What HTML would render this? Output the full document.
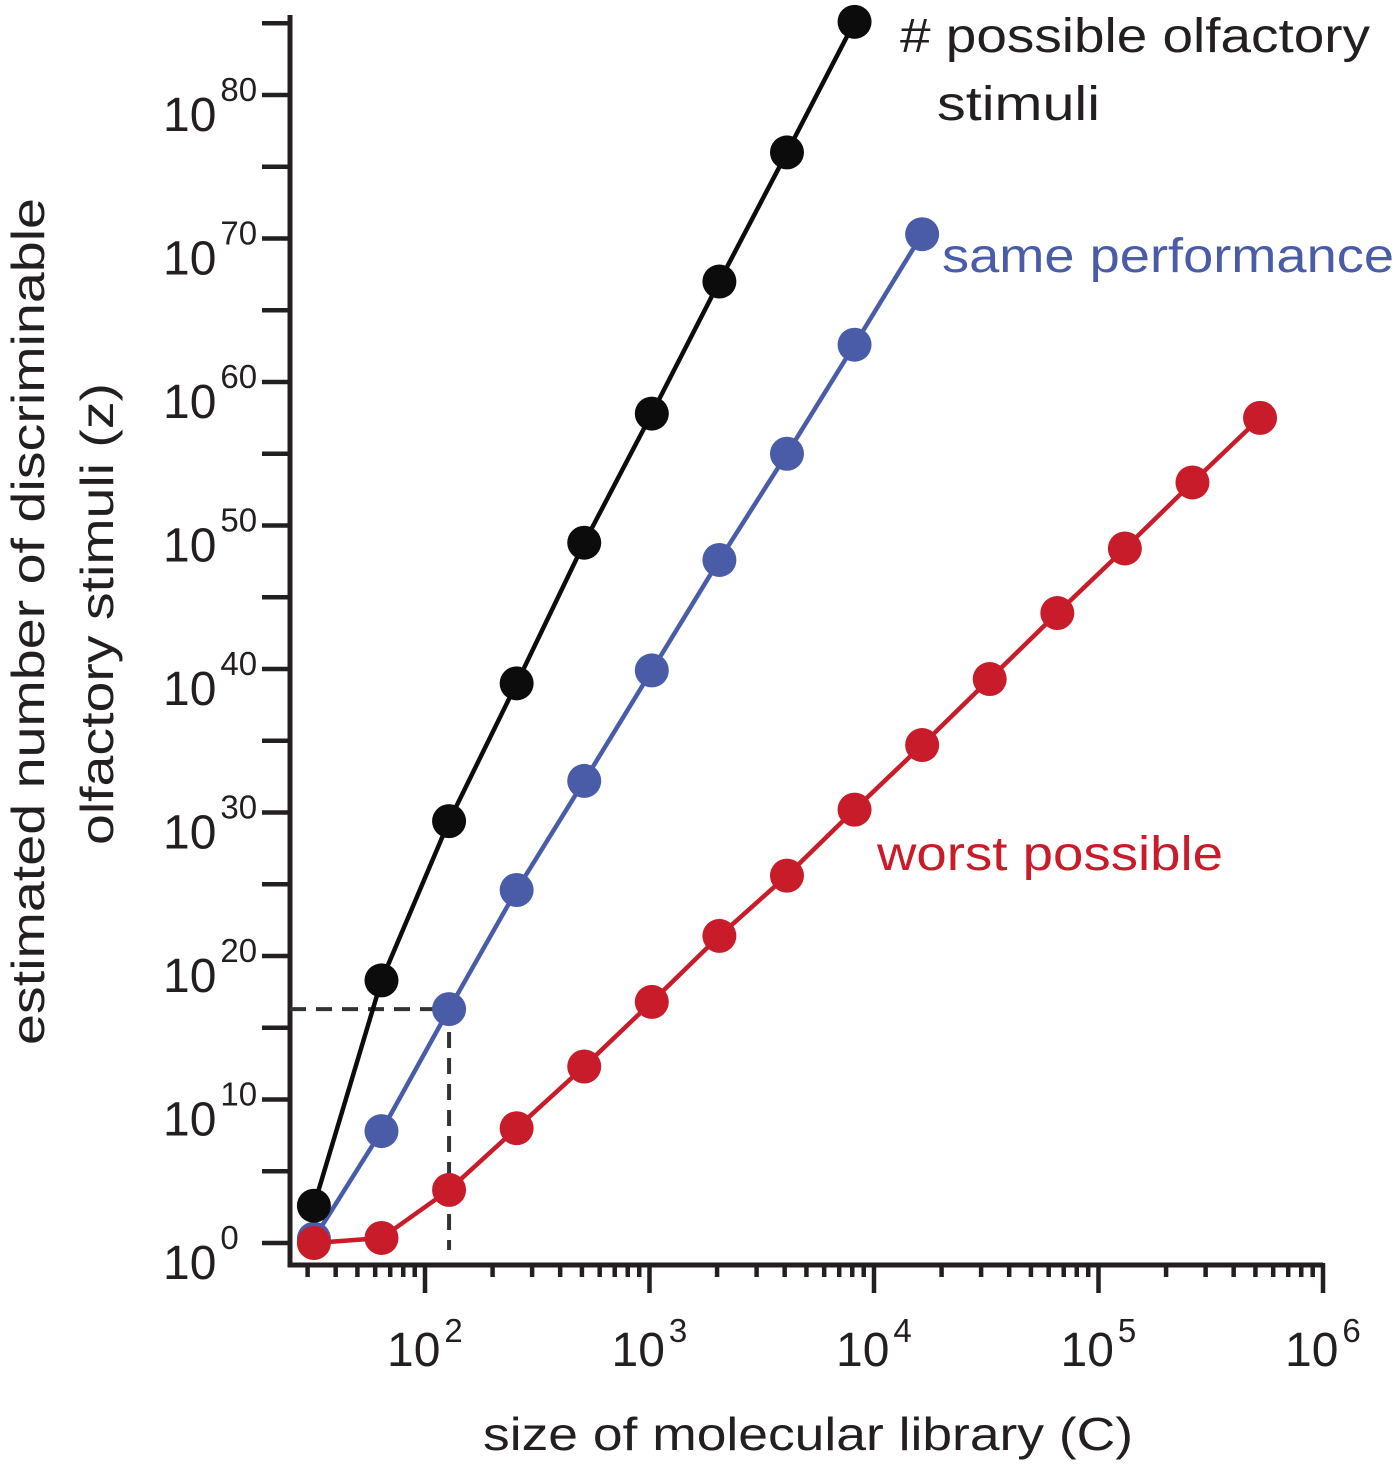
<!DOCTYPE html>
<html><head><meta charset="utf-8"><style>
body{margin:0;background:#fff}
svg text{font-family:"Liberation Sans",sans-serif}
</style></head><body>
<svg id="chart" width="1395" height="1464" viewBox="0 0 1395 1464" xmlns="http://www.w3.org/2000/svg">
<g id="axes"></g>
<g id="marks"></g>
<text x="483" y="1450" font-size="46" textLength="650" lengthAdjust="spacingAndGlyphs" fill="#231f20">size of molecular library (C)</text>
<text transform="translate(44,1045) rotate(-90)" font-size="46" textLength="847" lengthAdjust="spacingAndGlyphs" fill="#231f20">estimated number of discriminable</text>
<text transform="translate(113,845) rotate(-90)" font-size="46" textLength="462" lengthAdjust="spacingAndGlyphs" fill="#231f20">olfactory stimuli (z)</text>
<text x="900" y="52" font-size="48" textLength="470" lengthAdjust="spacingAndGlyphs" fill="#231f20"># possible olfactory</text>
<text x="937" y="120" font-size="48" textLength="163" lengthAdjust="spacingAndGlyphs" fill="#231f20">stimuli</text>
<text x="942" y="272" font-size="48" textLength="452" lengthAdjust="spacingAndGlyphs" fill="#4a5ca8">same performance</text>
<text x="877" y="870" font-size="48" textLength="346" lengthAdjust="spacingAndGlyphs" fill="#c91c2a">worst possible</text>
</svg>
<script>
const blackC=[32,64,128,256,512,1024,2048,4096,8192];
const blackExp=[2.6,18.3,29.4,39,48.8,57.8,67,76,85.1];
const blueC=[32,64,128,256,512,1024,2048,4096,8192,16384];
const blueExp=[0.3,7.8,16.3,24.6,32.2,39.9,47.6,55,62.6,70.3];
const redC=[32,64,128,256,512,1024,2048,4096,8192,16384,32768,65536,131072,262144,524288];
const redExp=[0,0.35,3.7,8,12.3,16.8,21.4,25.6,30.2,34.7,39.3,43.9,48.4,53,57.5];
const xTickExps=[2,3,4,5,6];
const yTickExps=[0,10,20,30,40,50,60,70,80];
const dashC=128, dashExp=16.3;

const NS="http://www.w3.org/2000/svg";
const X=c=>425+(Math.log10(c)-2)*224.5;
const Y=e=>1243-e*14.35;
function mk(p,tag,a){const el=document.createElementNS(NS,tag);for(const k in a)el.setAttribute(k,a[k]);p.appendChild(el);return el;}
const axes=document.getElementById('axes'), marks=document.getElementById('marks');
const AX="#231f20";
let l=mk(axes,'path',{d:"M290,15 V1265 H1323",fill:"none",stroke:AX,"stroke-width":5});


for(let d=1;d<6;d++){for(let m=1;m<10;m++){const c=m*Math.pow(10,d);if(c<30)continue;const x=X(c);
 const t=mk(axes,'line',{x1:x,x2:x,y1:1263,y2:m==1?1293:1277,stroke:AX,"stroke-width":4.5});
 
 }}
{const t=mk(axes,'line',{x1:X(1e6),x2:X(1e6),y1:1263,y2:1293,stroke:AX,"stroke-width":4.5});
 
 }
xTickExps.forEach(e=>{const x=X(Math.pow(10,e));
 const t=mk(axes,'text',{x:x-38,y:1366,"font-size":48,fill:AX});
 
 
 t.innerHTML='10<tspan dx="4" dy="-24" font-size="33">'+e+'</tspan>';});
for(let e=0;e<=85;e+=5){const y=Y(e);
 const t=mk(axes,'line',{x1:262,x2:290,y1:y,y2:y,stroke:AX,"stroke-width":4.5});
 
 }
yTickExps.forEach(e=>{const y=Y(e);
 const t=mk(axes,'text',{x:163,y:y+36,"font-size":48,fill:AX});
 
 
 t.innerHTML='10<tspan dx="4" dy="-30" font-size="33">'+e+'</tspan>';});
const dg=mk(marks,'path',{d:`M290,${Y(dashExp)} H${X(dashC)} V1250`,fill:"none",stroke:"#333","stroke-width":4,"stroke-dasharray":"16,10"});


function series(cs,es,col,name){
 const g=mk(marks,'g',{});
 
 
 const ln=mk(g,'polyline',{points:cs.map((c,i)=>X(c)+','+Y(es[i])).join(' '),fill:"none",stroke:col,"stroke-width":4.5});
 
 
 cs.forEach((c,i)=>{const p=mk(g,'circle',{cx:X(c),cy:Y(es[i]),r:17,fill:col});
  
  });
}
series(blueC,blueExp,"#4a5ca8","same-performance-series");
series(redC,redExp,"#c91c2a","worst-possible-series");
series(blackC,blackExp,"#0c0c0c","possible-stimuli-series");
</script>
</body></html>
